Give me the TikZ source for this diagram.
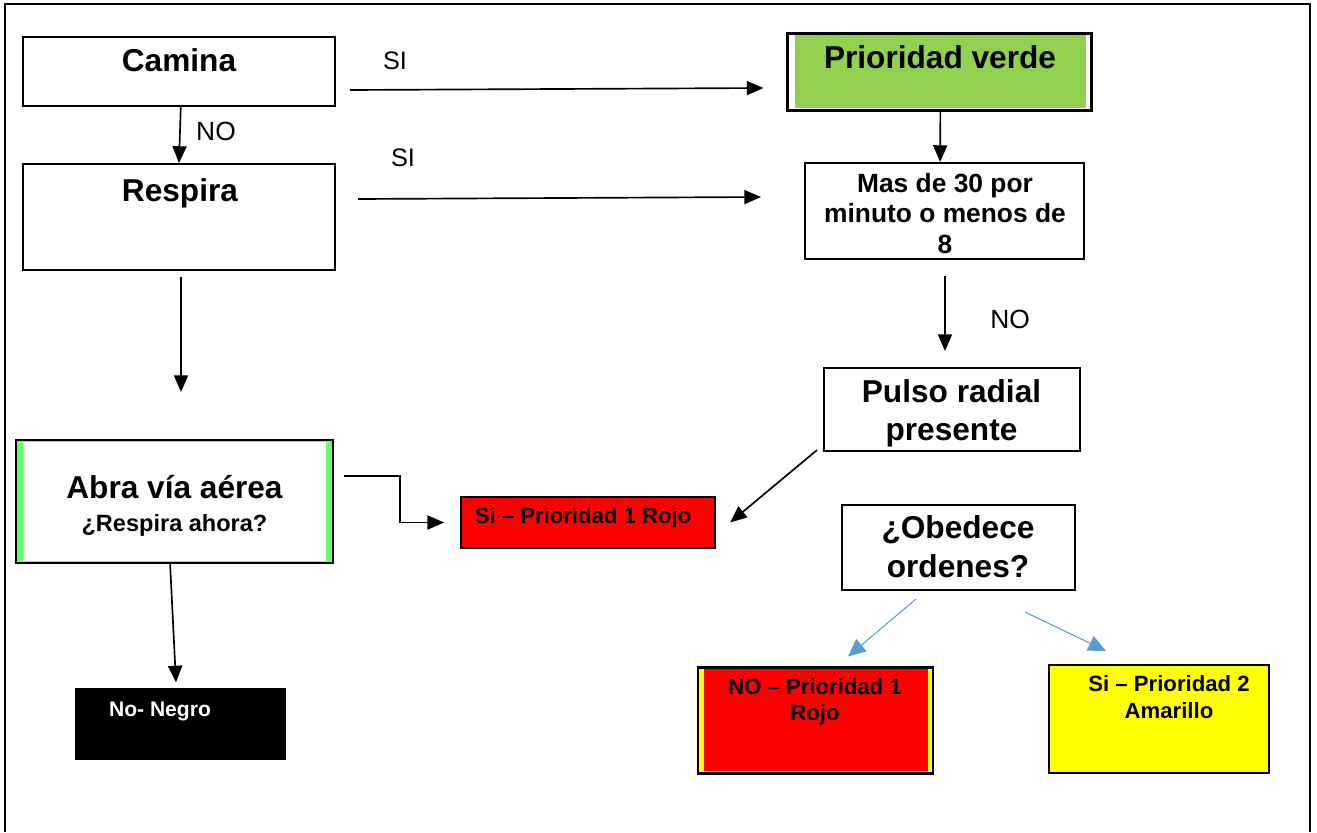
\documentclass[tikz,border=0pt]{standalone}
\usepackage{fontspec}
\setmainfont{Liberation Sans}
\usepackage{tikz}
\usetikzlibrary{arrows.meta, calc}
\definecolor{verdeClaro}{RGB}{146, 208, 80}
\definecolor{verdeBorde}{RGB}{102, 255, 102}
\definecolor{rojoVivo}{RGB}{255, 0, 0}
\definecolor{amarilloVivo}{RGB}{255, 255, 0}
\definecolor{azulFlecha}{RGB}{91, 155, 213}

\begin{document}
\begin{tikzpicture}[
    x=0.02cm, y=-0.02cm,
    caja/.style={rectangle, draw=black, line width=1.2pt, inner sep=0pt},
    texto/.style={anchor=base, align=center, inner sep=0pt, font=\bfseries\fontsize{18}{21.5}\selectfont},
    chico/.style={anchor=base, align=center, inner sep=0pt, font=\bfseries\fontsize{12.6}{14.8}\selectfont},
    etiqueta/.style={anchor=base, inner sep=0pt, font=\fontsize{14.4}{16}\selectfont},
    flecha/.style={-{Triangle[length=9.5pt, width=8pt]}, line width=0.95pt, black},
    flechaazul/.style={-{Triangle[length=10pt, width=9pt]}, line width=0.6pt, azulFlecha},
  ]
    \useasboundingbox (0,0) rectangle (1317,832);
    % marco exterior
    \draw[line width=1.6pt] (5,832) -- (5,4) -- (1310,4) -- (1310,832);

    % columna izquierda
    \node[caja, minimum width=6.24cm, minimum height=1.38cm] (camina) at (179,71.5) {};
    \node[texto] (tcamina) at (179,71) {Camina};
    \node[caja, minimum width=6.24cm, minimum height=2.12cm] (respira) at (179,217) {};
    \node[texto] (trespira) at (180,201) {Respira};

    \node[caja, fill=verdeBorde, minimum width=6.34cm, minimum height=2.46cm] (abra) at (174.5,501.5) {};
    \fill[white] ([shift={(8,3)}]abra.north west) rectangle ([shift={(-8,-3)}]abra.south east);
    \node[texto] (tabra) at (174.5,498) {Abra vía aérea};
    \node[anchor=base, inner sep=0pt, font=\bfseries\fontsize{13.4}{16}\selectfont] (tahora) at (174.5,531) {¿Respira ahora?};

    \node[caja, fill=black, minimum width=4.18cm, minimum height=1.38cm] (negro) at (180.5,724) {};
    \node[chico, text=white, font=\bfseries\fontsize{12}{14}\selectfont] (tnegro) at (160,716) {No- Negro};

    % columna derecha
    \node[caja, minimum width=6.08cm, minimum height=1.54cm] (verde) at (939.5,72) {};
    \fill[verdeClaro] ([shift={(9,3)}]verde.north west) rectangle ([shift={(-7,-4)}]verde.south east);
    \node[texto] (tverde) at (940,68) {Prioridad verde};

    \node[caja, minimum width=5.58cm, minimum height=1.92cm] (mas30) at (944.5,211) {};
    \node[texto, font=\bfseries\fontsize{15}{17.3}\selectfont] (tmas30) at (945,253)
      {Mas de 30 por\\minuto o menos de\\8};

    \node[caja, minimum width=5.12cm, minimum height=1.66cm] (pulso) at (952,409.5) {};
    \node[texto] (tpulso) at (951.5,440) {Pulso radial\\presente};

    \node[caja, fill=rojoVivo, minimum width=5.08cm, minimum height=1.02cm] (rojo1) at (588,522.5) {};
    \node[chico] (trojo1) at (583,523) {Si – Prioridad 1 Rojo};

    \node[caja, minimum width=4.66cm, minimum height=1.70cm] (obedece) at (958.5,547.5) {};
    \node[texto, font=\bfseries\fontsize{18}{22}\selectfont] (tobedece) at (958,577) {¿Obedece\\ordenes?};

    \node[caja, fill=amarilloVivo, minimum width=4.70cm, minimum height=2.12cm] (rojo2) at (815.5,720.5) {};
    \fill[rojoVivo] ([shift={(7,3)}]rojo2.north west) rectangle ([shift={(-6,-4)}]rojo2.south east);
    \node[chico] (trojo2) at (815,720) {NO – Prioridad 1\\Rojo};

    \node[caja, fill=amarilloVivo, minimum width=4.40cm, minimum height=2.16cm] (amarillo) at (1159,719) {};
    \node[chico, font=\bfseries\fontsize{12.6}{15.3}\selectfont] (tamarillo) at (1169,718) {Si – Prioridad 2\\Amarillo};

    % conectores
    \draw[flecha] ([shift={(14,18.5)}]camina.east) -- ([shift={(-23,16)}]verde.west);
    \node[etiqueta] (si1) at (395,69) {SI};
    \draw[flecha] ([xshift=1]camina.south) -- (respira.north);
    \node[etiqueta, font=\fontsize{15}{17}\selectfont] (no1) at (216,140) {NO};
    \draw[flecha] ([shift={(22,-18)}]respira.east) -- ([shift={(-43,-14)}]mas30.west);
    \node[etiqueta] (si2) at (403,166) {SI};
    \coordinate (abajo) at (181,392);
    \draw[flecha] ([shift={(2,6)}]respira.south) -- (abajo);

    \draw[flecha] ([xshift=0.5]verde.south) -- ([xshift=-2.5]mas30.north);
    \draw[flecha] ([shift={(0.5,16)}]mas30.south) -- ([shift={(-7,-16)}]pulso.north);
    \node[etiqueta, font=\fontsize{15}{17}\selectfont] (no2) at (1010,328) {NO};

    \draw[flecha] ([shift={(10,-25.5)}]abra.east) -- ++(56,0) |- ([xshift=-9]rojo1.west);
    \draw[flecha] ([shift={(-6,-2)}]pulso.south west) -- ([xshift=8]rojo1.east);
    \draw[flecha] ([xshift=-2.5]abra.south) -- ([shift={(-4.5,-6)}]negro.north);

    \draw[flechaazul] ([shift={(-42.5,8)}]obedece.south) -- ([shift={(32.5,-10)}]rojo2.north);
    \draw[flechaazul] ([shift={(66.5,21)}]obedece.south) -- ([shift={(-53,-13)}]amarillo.north);
\end{tikzpicture}
\end{document}
